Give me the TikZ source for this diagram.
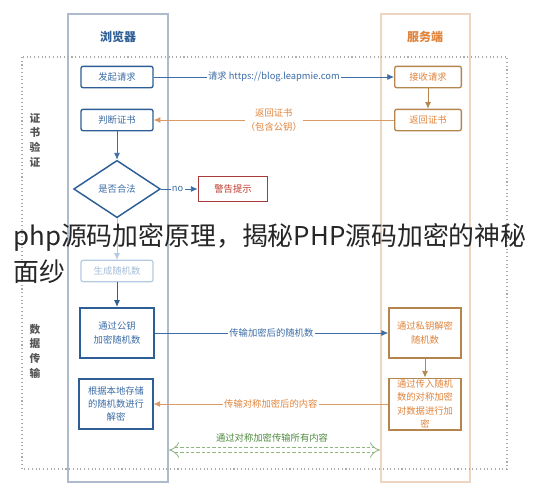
\documentclass[tikz,border=0pt]{standalone}
\usepackage{fontspec}
\setmainfont{Noto Sans CJK SC}
\usetikzlibrary{shapes.geometric,arrows.meta}
\definecolor{blueD}{HTML}{2E5E96}
\definecolor{blueT}{HTML}{3C6DA6}
\definecolor{blueF}{HTML}{B4CAE2}
\definecolor{blueFT}{HTML}{A3BDD9}
\definecolor{laneB}{HTML}{AEBBCC}
\definecolor{laneS}{HTML}{EDD5BF}
\definecolor{srvB}{HTML}{B5854E}
\definecolor{srvT}{HTML}{E0843C}
\definecolor{arrO}{HTML}{D99A66}
\definecolor{warnB}{HTML}{A83A3A}
\definecolor{warnT}{HTML}{C0392B}
\definecolor{grnT}{HTML}{4E8A3E}
\definecolor{grnL}{HTML}{8DB67E}
\definecolor{frameC}{HTML}{AAAAAA}
\definecolor{sideT}{HTML}{555555}
\begin{document}
\begin{tikzpicture}[x=0.75pt,y=-0.75pt,
  every node/.style={font=\fontsize{7}{10}\selectfont, align=center},
  lane/.style={draw=laneB, line width=1.1pt},
  slane/.style={draw=laneS, line width=1.1pt},
  hdr/.style={font=\fontsize{9}{11}\selectfont\bfseries},
  bbox/.style={draw=blueD, line width=1pt, rounded corners=1.5pt, text=blueT, minimum width=54pt, minimum height=16pt, inner sep=1pt},
  bbig/.style={draw=blueD, line width=1.3pt, text=blueT, minimum width=55pt, minimum height=38pt, inner sep=1pt},
  sbox/.style={draw=srvB, line width=1pt, rounded corners=1.5pt, text=srvT, minimum width=50pt, minimum height=16pt, inner sep=1pt},
  sbig/.style={draw=srvB, line width=1.3pt, text=srvT, minimum width=54pt, minimum height=38pt, inner sep=1pt},
  lbl/.style={fill=white, inner sep=1pt},
  barrow/.style={draw=blueT, line width=0.6pt, -{Latex[length=5pt,width=4.5pt]}},
  oarrow/.style={draw=arrO, line width=0.6pt, -{Latex[length=5pt,width=4.5pt]}},
  side/.style={font=\fontsize{8}{11}\selectfont\bfseries, text=sideT}
]
\useasboundingbox (0,0) rectangle (534,490);
\fill[white] (0,0) rectangle (534,490);

% lanes and frame
\draw[lane] (68,14) rectangle (168,482);
\draw[slane] (381,14) rectangle (470,482);
\draw[frameC, dotted, line width=0.8pt] (22,57) rectangle (507,469);

\node[hdr, text=blueD] (hb) at (118,37) {浏览器};
\node[hdr, text=srvT] (hs) at (425,37) {服务端};

\node[side] (s1) at (35,140) {证\\书\\验\\证};
\node[side] (s2) at (35,351) {数\\据\\传\\输};

% browser nodes
\node[bbox] (req) at (117,77) {发起请求};
\node[bbox] (judge) at (117,120) {判断证书};
\node[diamond, draw=blueD, line width=1.1pt, text=blueT, minimum width=65pt, minimum height=43pt, inner sep=0pt] (legal) at (117,189) {是否合法};
\node[draw=warnB, line width=1.1pt, text=warnT, minimum width=52pt, minimum height=19pt, inner sep=1pt] (warn) at (233,189) {警告提示};
\node[draw=blueF, line width=0.9pt, rounded corners=1.5pt, text=blueFT, minimum width=54pt, minimum height=16pt, inner sep=1pt] (gen) at (117,271) {生成随机数};
\node[bbig] (enc) at (117,333) {通过公钥\\加密随机数};
\node[bbig] (dec) at (116,404) {根据本地存储\\的随机数进行\\解密};

% server nodes
\node[sbox] (recv) at (428,77) {接收请求};
\node[sbox] (ret) at (428,120) {返回证书};
\node[sbig] (pdec) at (425,333) {通过私钥解密\\随机数};
\node[sbig] (senc) at (425,404) {通过传入随机\\数的对称加密\\对数据进行加\\密};

% connectors
\draw[barrow] (req) -- node[lbl, text=blueT] {请求 https://blog.leapmie.com} (recv);
\draw[oarrow] (ret) -- node[lbl, text=srvT] {返回证书\\（包含公钥）} (judge);
\draw[oarrow, draw=srvB] (recv) -- (ret);
\draw[barrow] (judge) -- (legal);
\draw[draw=blueT, line width=0.6pt, -{Latex[length=5pt,width=4.5pt]}] (legal) -- node[lbl, text=blueT, pos=0.45] {no} (warn);
\draw[draw=blueF, line width=0.6pt, -{Latex[length=5pt,width=4.5pt]}] (legal) -- (gen);
\draw[barrow, draw=blueD] (gen) -- (enc);
\draw[barrow] (enc) -- node[lbl, text=blueT] {传输加密后的随机数} (pdec);
\draw[oarrow, draw=srvB] (pdec) -- (senc);
\draw[oarrow] (senc) -- node[lbl, text=srvT] {传输对称加密后的内容} (dec);

\coordinate (ga) at (169,450);
\coordinate (gb) at (380,450);
\node[text=grnT] (glbl) at (272,438) {通过对称加密传输所有内容};
\draw[grnL, double=white, double distance=3.5pt, line width=0.6pt, dash pattern=on 2.5pt off 1.5pt, {Implies[length=5pt]}-{Implies[length=5pt]}] (ga) -- (gb);

% overlay title
\node[anchor=base west, align=left, inner sep=0pt, text=black!85, font=\fontsize{19.4}{27}\selectfont] (title) at (13,281) {php源码加密原理，揭秘PHP源码加密的神秘\\面纱};
\end{tikzpicture}
\end{document}
